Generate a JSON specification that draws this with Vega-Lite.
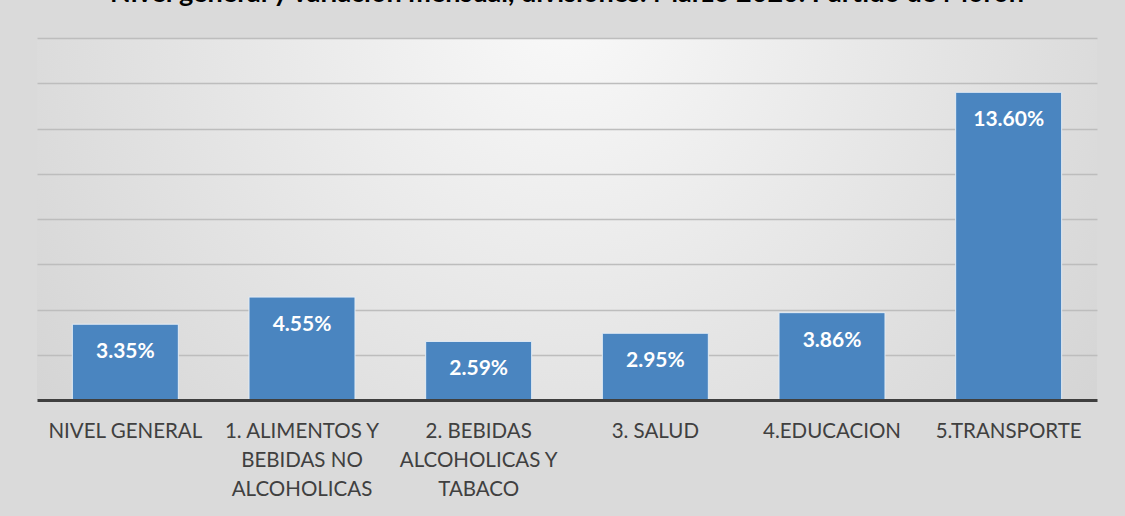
{
  "$schema": "https://vega.github.io/schema/vega-lite/v6.json",
  "width": 1060,
  "height": 362,
  "autosize": {"type": "none"},
  "padding": {"left": 37, "top": 38, "right": 28, "bottom": 116},
  "background": "#dadada",
  "title": {
    "text": "Nivel general y variación mensual, divisiones. Marzo 2020. Partido de Morón",
    "font": "Lato",
    "fontSize": 27,
    "fontWeight": "bold",
    "color": "#000000",
    "anchor": "middle",
    "offset": 30
  },
  "config": {
    "view": {
      "stroke": null,
      "fill": {
        "gradient": "radial",
        "x1": 0.5, "y1": 0.3, "r1": 0,
        "x2": 0.5, "y2": 0.3, "r2": 0.75,
        "stops": [
          {"offset": 0, "color": "#f9f9f9"},
          {"offset": 1, "color": "#cdcdcd"}
        ]
      }
    }
  },
  "data": {
    "values": [
      {"division": "NIVEL GENERAL", "variacion": 0.0335},
      {"division": "1. ALIMENTOS Y\nBEBIDAS NO\nALCOHOLICAS", "variacion": 0.0455},
      {"division": "2. BEBIDAS\nALCOHOLICAS Y\nTABACO", "variacion": 0.0259},
      {"division": "3. SALUD", "variacion": 0.0295},
      {"division": "4.EDUCACION", "variacion": 0.0386},
      {"division": "5.TRANSPORTE", "variacion": 0.136}
    ]
  },
  "encoding": {
    "x": {
      "field": "division",
      "type": "nominal",
      "sort": null,
      "scale": {"paddingInner": 0.4, "paddingOuter": 0.2},
      "axis": {
        "title": null,
        "labelAngle": 0,
        "ticks": false,
        "labelPadding": 21,
        "labelFont": "Lato",
        "labelFontSize": 20.5,
        "labelColor": "#404040",
        "labelLineHeight": 29,
        "labelLimit": 200,
        "domainColor": "#3f3f3f",
        "domainWidth": 3,
        "labelExpr": "split(datum.label, '\\n')",
        "grid": false,
        "zindex": 1
      }
    },
    "y": {
      "field": "variacion",
      "type": "quantitative",
      "scale": {"domain": [0, 0.16]},
      "axis": {
        "title": null,
        "labels": false,
        "ticks": false,
        "domain": false,
        "grid": true,
        "gridColor": "#bdbdbd",
        "gridWidth": 1.5,
        "values": [0.02, 0.04, 0.06, 0.08, 0.10, 0.12, 0.14, 0.16]
      }
    }
  },
  "layer": [
    {"mark": {"type": "bar", "color": "#4a85c0", "stroke": "#e3ecf5", "strokeWidth": 1}},
    {
      "mark": {"type": "text", "color": "#ffffff", "font": "Lato", "fontSize": 21, "fontWeight": "bold", "dy": 28, "baseline": "middle"},
      "encoding": {"text": {"field": "variacion", "format": ".2%"}}
    }
  ]
}
